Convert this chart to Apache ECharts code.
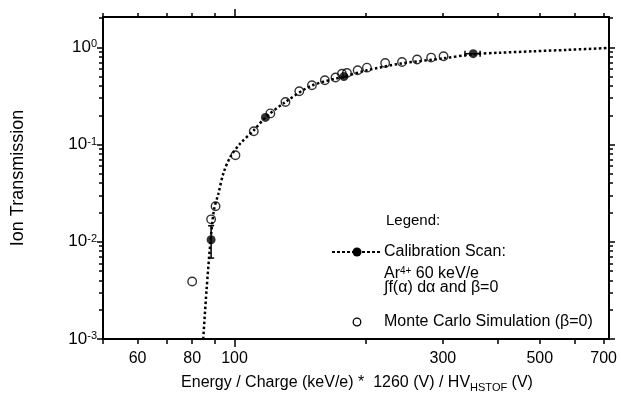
<!DOCTYPE html>
<html><head><meta charset="utf-8">
<script src="https://cdn.jsdelivr.net/npm/echarts@6/dist/echarts.min.js"></script>
<style>html,body{margin:0;padding:0;background:#fff}#c{width:621px;height:393px}</style>
</head><body><div id="c"></div>
<script>
// ---- axis ticks / labels ----
const xLabelValues = [60, 80, 100, 300, 500, 700];
const xTickValues = [50, 60, 70, 80, 90, 200, 300, 400, 500, 600, 700];
const xLongTickValues = [100];
const yLabelValues = [0.001, 0.01, 0.1, 1];
const yMinorValues = [0.002,0.003,0.004,0.005,0.006,0.007,0.008,0.009,
  0.02,0.03,0.04,0.05,0.06,0.07,0.08,0.09,
  0.2,0.3,0.4,0.5,0.6,0.7,0.8,0.9, 2];

// ---- calibration curve (dotted) ----
const curveE = [84.8, 86.3, 88.1, 89.7, 91.8, 94.5, 97.9, 103.2, 110.7, 117.7, 130.8, 150.4, 178, 201, 240, 301, 353, 405, 483, 576, 720];
const curveT = [0.001, 0.0032, 0.0100, 0.021, 0.031, 0.052, 0.075, 0.103, 0.140, 0.190, 0.274, 0.405, 0.50, 0.58, 0.68, 0.77, 0.85, 0.88, 0.91, 0.94, 0.985];

// ---- calibration scan points ----
const calE = [88.4, 117.7, 178, 352];
const calT = [0.0105, 0.19, 0.50, 0.86];
// vertical error bar (E, Tlow, Thigh)
const calVErr = [[88.4, 0.0068, 0.0146]];
// horizontal error bar (T, Elow, Ehigh)
const calHErr = [[0.86, 337, 365]];

// ---- Monte Carlo simulation points ----
const mcE = [80.0, 88.4, 90.5, 100.5, 110.7, 120.8, 130.8, 140.7, 150.4, 161, 170.3, 176.2, 180.9, 191.4, 201, 221.3, 241.8, 261.8, 281.9, 301];
const mcT = [0.0039, 0.017, 0.0232, 0.0776, 0.137, 0.209, 0.274, 0.353, 0.407, 0.458, 0.489, 0.535, 0.545, 0.58, 0.618, 0.69, 0.706, 0.748, 0.784, 0.81];

const FONT = '"Liberation Sans", Arial, Helvetica, sans-serif';
const X_MIN = 50, X_MAX = 720, Y_MIN = 0.001, Y_MAX = 2.05;

function xAx(opts) {
  return Object.assign({
    type: 'log', logBase: 10, min: X_MIN, max: X_MAX, gridIndex: 0,
    splitLine: {show: false},
    axisLine: {show: false}, axisLabel: {show: false}
  }, opts);
}
function yAx(opts) {
  return Object.assign({
    type: 'log', logBase: 10, min: Y_MIN, max: Y_MAX, gridIndex: 0,
    splitLine: {show: false},
    axisLine: {show: false}, axisLabel: {show: false}
  }, opts);
}
const lineSt = {color: '#000', width: 2};
const tickSt = {color: '#000', width: 1.5};

const chart = echarts.init(document.getElementById('c'), null, {renderer: 'canvas'});
chart.setOption({
  animation: false,
  backgroundColor: '#fff',
  textStyle: {fontFamily: FONT},
  grid: {left: 103, right: 12, top: 17, bottom: 54, containLabel: false, outerBoundsMode: 'none'},
  xAxis: [
    xAx({position: 'bottom',
      axisLine: {show: true, onZero: false, lineStyle: lineSt},
      axisTick: {show: true, customValues: xTickValues, length: 5, lineStyle: tickSt},
      axisLabel: {show: true, customValues: xLabelValues, margin: 12, color: '#000',
        fontSize: 16, fontFamily: FONT, formatter: v => String(Math.round(v))},
      name: 'Energy / Charge (keV/e) *  1260 (V) / HV{sub|HSTOF} (V)',
      nameLocation: 'middle', nameGap: 34,
      nameTextStyle: {color: '#000', fontSize: 16, fontFamily: FONT, padding: [0, 0, 0, 2],
        rich: {sub: {fontSize: 11, fontFamily: FONT, color: '#000', padding: [9, 0, 0, 0]}}}
    }),
    xAx({position: 'bottom',
      axisTick: {show: true, customValues: xLongTickValues, length: 8, lineStyle: tickSt}}),
    xAx({position: 'top',
      axisLine: {show: true, onZero: false, lineStyle: lineSt},
      axisTick: {show: true, customValues: xTickValues, length: 4, lineStyle: tickSt}}),
    xAx({position: 'top',
      axisTick: {show: true, customValues: xLongTickValues, length: 8, lineStyle: tickSt}})
  ],
  yAxis: [
    yAx({position: 'left',
      axisLine: {show: true, onZero: false, lineStyle: lineSt},
      axisTick: {show: true, customValues: yLabelValues, length: 6, lineStyle: tickSt},
      axisLabel: {show: true, customValues: yLabelValues, margin: 6, color: '#000',
        formatter: v => '{b|10}{s|' + Math.round(Math.log10(v)) + '}',
        rich: {
          b: {fontSize: 17, fontFamily: FONT, color: '#000', verticalAlign: 'top', lineHeight: 17},
          s: {fontSize: 11, fontFamily: FONT, color: '#000', verticalAlign: 'top', lineHeight: 8}
        }},
      name: 'Ion Transmission', nameLocation: 'middle', nameGap: 76,
      nameTextStyle: {color: '#000', fontSize: 18, fontFamily: FONT}
    }),
    yAx({position: 'left',
      axisTick: {show: true, customValues: yMinorValues, length: 4, lineStyle: tickSt}}),
    yAx({position: 'right',
      axisLine: {show: true, onZero: false, lineStyle: lineSt},
      axisTick: {show: true, customValues: yLabelValues, length: 6, lineStyle: tickSt}}),
    yAx({position: 'right',
      axisTick: {show: true, customValues: yMinorValues, length: 4, lineStyle: tickSt}})
  ],
  series: [
    {
      name: 'Calibration curve', type: 'line', xAxisIndex: 0, yAxisIndex: 0,
      data: curveE.map((e, i) => [e, curveT[i]]),
      smooth: 0.3, showSymbol: false, symbol: 'none', silent: true,
      lineStyle: {color: '#000', width: 2.5, type: [2.5, 2.5]}, z: 2
    },
    {
      name: 'Error bars', type: 'custom', xAxisIndex: 0, yAxisIndex: 0, silent: true,
      data: calVErr.map(d => [d[0], d[1], d[2], 0]).concat(calHErr.map(d => [d[1], d[0], d[2], 1])),
      renderItem: function (params, api) {
        const kind = api.value(3);
        const st = {stroke: '#000', lineWidth: 1.5, fill: null};
        let a, b, caps;
        if (kind === 0) {
          a = api.coord([api.value(0), api.value(1)]);
          b = api.coord([api.value(0), api.value(2)]);
          caps = [
            {type: 'line', shape: {x1: a[0] - 3, y1: a[1], x2: a[0] + 3, y2: a[1]}, style: st},
            {type: 'line', shape: {x1: b[0] - 3, y1: b[1], x2: b[0] + 3, y2: b[1]}, style: st}
          ];
        } else {
          a = api.coord([api.value(0), api.value(1)]);
          b = api.coord([api.value(2), api.value(1)]);
          caps = [
            {type: 'line', shape: {x1: a[0], y1: a[1] - 3, x2: a[0], y2: a[1] + 3}, style: st},
            {type: 'line', shape: {x1: b[0], y1: b[1] - 3, x2: b[0], y2: b[1] + 3}, style: st}
          ];
        }
        return {type: 'group', children: [
          {type: 'line', shape: {x1: a[0], y1: a[1], x2: b[0], y2: b[1]}, style: st}
        ].concat(caps)};
      },
      z: 3
    },
    {
      name: 'Monte Carlo Simulation', type: 'scatter', xAxisIndex: 0, yAxisIndex: 0,
      data: mcE.map((e, i) => [e, mcT[i]]),
      symbol: 'circle', symbolSize: 8.5,
      itemStyle: {color: 'rgba(255,255,255,0)', borderColor: '#000', borderWidth: 1.4}, z: 4
    },
    {
      name: 'Calibration Scan', type: 'scatter', xAxisIndex: 0, yAxisIndex: 0,
      data: calE.map((e, i) => [e, calT[i]]),
      symbol: 'circle', symbolSize: 9,
      itemStyle: {color: '#000'}, z: 5
    }
  ],
  graphic: [
    {type: 'text', left: 386, top: 213, style: {text: 'Legend:', fill: '#000', font: '15px ' + FONT}},
    {type: 'line', shape: {x1: 332, y1: 252, x2: 382, y2: 252},
      style: {stroke: '#000', lineWidth: 2, lineDash: [3, 2]}},
    {type: 'circle', shape: {cx: 357, cy: 252, r: 4.5}, style: {fill: '#000'}},
    {type: 'text', left: 384, top: 244, style: {text: 'Calibration Scan:', fill: '#000', font: '16px ' + FONT}},
    {type: 'text', left: 384, top: 266, style: {
      text: 'Ar{sup|4+} 60 keV/e', fill: '#000', font: '16px ' + FONT,
      rich: {sup: {fontSize: 10, fontFamily: FONT, fill: '#000', verticalAlign: 'top', lineHeight: 8}}}},
    {type: 'text', left: 384, top: 280, style: {text: '\u222Bf(\u03B1) d\u03B1 and \u03B2=0', fill: '#000', font: '16px ' + FONT}},
    {type: 'circle', shape: {cx: 357, cy: 322, r: 3.8}, style: {fill: '#fff', stroke: '#000', lineWidth: 1.3}},
    {type: 'text', left: 384, top: 314, style: {text: 'Monte Carlo Simulation (\u03B2=0)', fill: '#000', font: '16px ' + FONT}}
  ]
});
</script>
</body></html>
